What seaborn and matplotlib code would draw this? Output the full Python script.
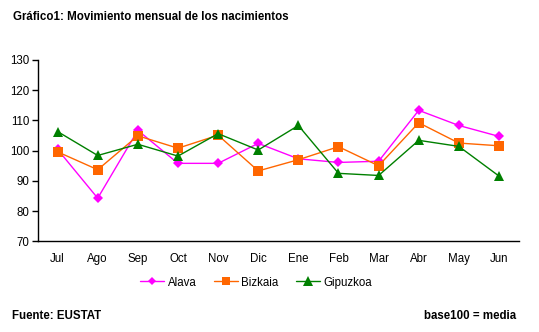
import matplotlib
matplotlib.use("Agg")
import matplotlib.pyplot as plt
import seaborn as sns
import pandas as pd
from matplotlib.lines import Line2D

months = ["Jul", "Ago", "Sep", "Oct", "Nov", "Dic", "Ene", "Feb", "Mar", "Abr", "May", "Jun"]
alava = [100.4, 84.3, 106.7, 95.8, 95.8, 102.4, 97.3, 96.1, 96.5, 113.3, 108.3, 104.7]
bizkaia = [99.6, 93.7, 104.9, 100.8, 105.1, 93.3, 97.0, 101.3, 95.0, 109.2, 102.5, 101.6]
gipuzkoa = [106.3, 98.4, 102.1, 98.2, 105.6, 100.2, 108.3, 92.5, 91.8, 103.4, 101.4, 91.6]
series_names = ["Alava", "Bizkaia", "Gipuzkoa"]
yticks = [70, 80, 90, 100, 110, 120, 130]

df = pd.concat([
    pd.DataFrame({"mes": months, "valor": vals, "serie": name})
    for name, vals in zip(series_names, [alava, bizkaia, gipuzkoa])
], ignore_index=True)

sns.set_style("white")
plt.rcParams["font.family"] = ["Liberation Sans", "DejaVu Sans"]
plt.rcParams["text.color"] = "black"
plt.rcParams["xtick.color"] = "black"
plt.rcParams["ytick.color"] = "black"
plt.rcParams["xtick.labelcolor"] = "black"
plt.rcParams["ytick.labelcolor"] = "black"

fig = plt.figure(figsize=(5.39, 3.32), dpi=100)
ax = fig.add_axes([0.0696, 0.2726, 0.8934, 0.5474])

palette = {"Alava": "#FF00FF", "Bizkaia": "#FF6600", "Gipuzkoa": "#008000"}
markers = {"Alava": "D", "Bizkaia": "s", "Gipuzkoa": "^"}
sizes = {"Alava": 5, "Bizkaia": 6.5, "Gipuzkoa": 7}

sns.lineplot(data=df, x="mes", y="valor", hue="serie", style="serie",
             markers=markers, dashes=False, palette=palette, sort=False,
             linewidth=1.0, markeredgewidth=0, ax=ax, legend=False)
for line, name in zip(ax.get_lines(), series_names):
    line.set_markersize(sizes[name])

ax.set_xlim(-0.5, len(months) - 0.5)
ax.set_ylim(70, 130)
ax.set_yticks(yticks)
ax.set_xlabel("")
ax.set_ylabel("")
for s in ["top", "right"]:
    ax.spines[s].set_visible(False)
for s in ["left", "bottom"]:
    ax.spines[s].set_color("black")
    ax.spines[s].set_linewidth(1.0)
ax.tick_params(axis="y", which="both", left=True, length=4, width=1, color="black",
               labelsize=8.3, pad=2, labelcolor="black")
ax.tick_params(axis="x", which="both", bottom=False, labelsize=8.3, pad=5, labelcolor="black")

handles = [Line2D([0], [0], color=palette[n], marker=markers[n], markersize=sizes[n] - 0.5,
                  markeredgewidth=0, linewidth=1.0) for n in series_names]
fig.legend(handles, series_names, loc="center", bbox_to_anchor=(0.475, 0.149), ncol=3,
           frameon=False, fontsize=8.3, handlelength=2.1, columnspacing=1.5, handletextpad=0.3,
           labelcolor="black")

fig.text(13 / 539, 1 - 17 / 332, "Gráfico1: Movimiento mensual de los nacimientos",
         fontsize=8.3, fontweight="bold", va="center", ha="left", color="black")
fig.text(12 / 539, 1 - 316 / 332, "Fuente: EUSTAT", fontsize=8.3, fontweight="bold",
         va="center", ha="left", color="black")
fig.text(516 / 539, 1 - 316 / 332, "base100 = media", fontsize=8.3, fontweight="bold",
         va="center", ha="right", color="black")

fig.savefig("out.png", dpi=100, facecolor="white")
